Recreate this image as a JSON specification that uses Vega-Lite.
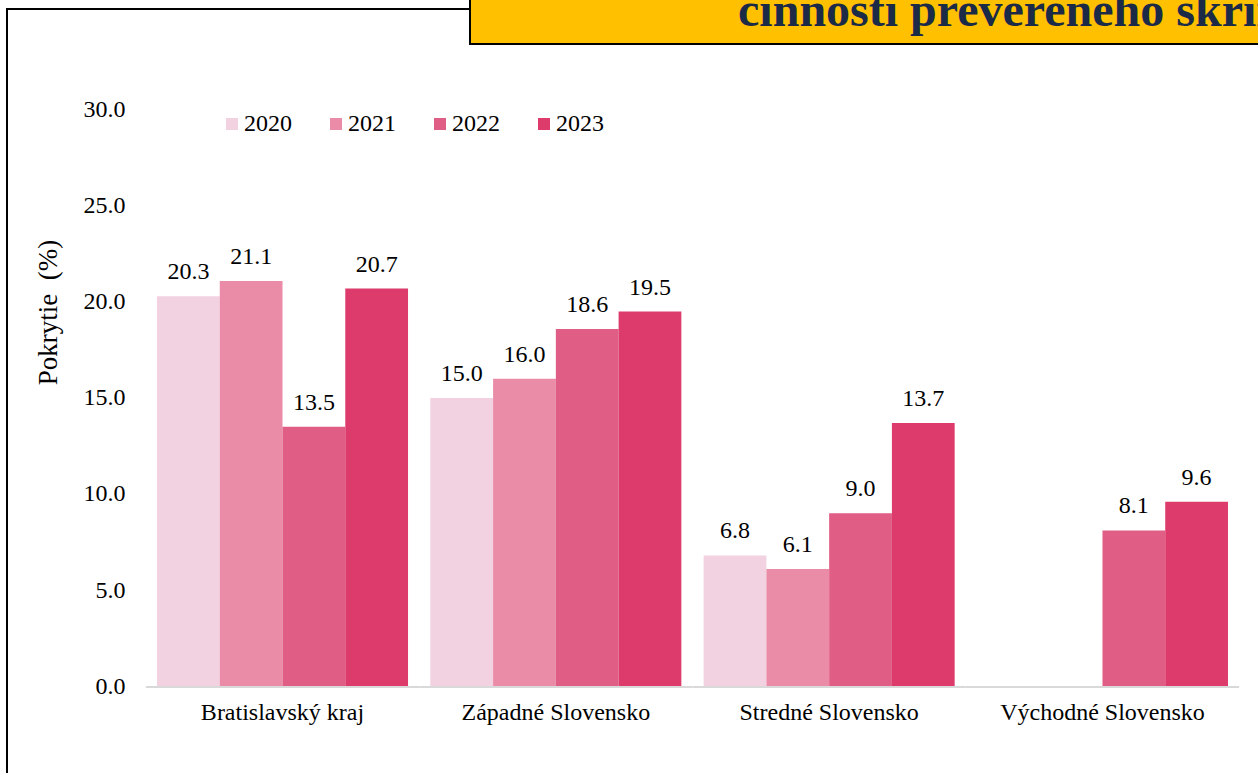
{
  "$schema": "https://vega.github.io/schema/vega-lite/v6.json",
  "autosize": {"type": "none"},
  "padding": {"left": 7, "top": 9, "right": 0, "bottom": 0},
  "background": "white",
  "width": 1300,
  "height": 800,
  "config": {
    "font": "Liberation Serif",
    "view": {"stroke": "#000000", "strokeWidth": 2},
    "axis": {"labelFont": "Liberation Serif", "titleFont": "Liberation Serif"},
    "legend": {"labelFont": "Liberation Serif"},
    "text": {"font": "Liberation Serif"}
  },
  "data": {
    "values": [
      {"region": "Bratislavský kraj", "year": "2020", "value": 20.3},
      {"region": "Bratislavský kraj", "year": "2021", "value": 21.1},
      {"region": "Bratislavský kraj", "year": "2022", "value": 13.5},
      {"region": "Bratislavský kraj", "year": "2023", "value": 20.7},
      {"region": "Západné Slovensko", "year": "2020", "value": 15.0},
      {"region": "Západné Slovensko", "year": "2021", "value": 16.0},
      {"region": "Západné Slovensko", "year": "2022", "value": 18.6},
      {"region": "Západné Slovensko", "year": "2023", "value": 19.5},
      {"region": "Stredné Slovensko", "year": "2020", "value": 6.8},
      {"region": "Stredné Slovensko", "year": "2021", "value": 6.1},
      {"region": "Stredné Slovensko", "year": "2022", "value": 9.0},
      {"region": "Stredné Slovensko", "year": "2023", "value": 13.7},
      {"region": "Východné Slovensko", "year": "2022", "value": 8.1},
      {"region": "Východné Slovensko", "year": "2023", "value": 9.6}
    ]
  },
  "encoding": {
    "x": {
      "field": "region",
      "type": "nominal",
      "sort": ["Bratislavský kraj", "Západné Slovensko", "Stredné Slovensko", "Východné Slovensko"],
      "scale": {"domain": ["Bratislavský kraj", "Západné Slovensko", "Stredné Slovensko", "Východné Slovensko"], "paddingInner": 0.0816, "paddingOuter": 0.419, "align": 0.655},
      "axis": {"title": null, "domain": false, "ticks": false, "grid": false, "offset": -123, "labelPadding": 14, "labelFontSize": 24, "labelFont": "Liberation Serif", "labelColor": "#000000", "labelAngle": 0, "labelLimit": 0}
    }
  },
  "layer": [
    {
      "data": {"values": [
        {"region": "Bratislavský kraj"},
        {"region": "Západné Slovensko"},
        {"region": "Stredné Slovensko"},
        {"region": "Východné Slovensko"}
      ]},
      "mark": {"type": "bar", "color": "#D9D9D9", "width": {"band": 1.0889}},
      "encoding": {
        "y": {"datum": 0, "type": "quantitative"},
        "y2": {"datum": -0.1}
      }
    },
    {
      "mark": {"type": "bar"},
      "encoding": {
        "xOffset": {"field": "year", "type": "nominal", "scale": {"domain": ["2020", "2021", "2022", "2023"], "paddingInner": 0, "paddingOuter": 0}},
        "y": {
          "field": "value",
          "type": "quantitative",
          "stack": null,
          "scale": {"domain": [-6.406, 35.26], "nice": false, "zero": false},
          "axis": {
            "values": [0, 5, 10, 15, 20, 25, 30],
            "format": ".1f",
            "domain": false,
            "ticks": false,
            "grid": false,
            "offset": -140,
            "labelPadding": 22,
            "labelFontSize": 24,
            "labelFont": "Liberation Serif",
            "labelColor": "#000000",
            "title": "Pokrytie \u00a0(%)",
            "titleFont": "Liberation Serif",
            "titleFontSize": 27,
            "titleFontWeight": "normal",
            "titleColor": "#000000",
            "titleX": -99,
            "titleY": 303,
            "titleAngle": -90,
            "titleAlign": "center",
            "titleBaseline": "middle"
          }
        },
        "y2": {"datum": 0},
        "color": {
          "field": "year",
          "type": "nominal",
          "scale": {"domain": ["2020", "2021", "2022", "2023"], "range": ["#F2D1E1", "#EA8BA7", "#E05D85", "#DC3B6C"]},
          "legend": {
            "title": null,
            "orient": "none",
            "direction": "horizontal",
            "legendX": 213,
            "legendY": 103,
            "padding": 0,
            "symbolType": "square",
            "symbolSize": 144,
            "symbolStrokeWidth": 0,
            "symbolOpacity": 1,
            "labelFont": "Liberation Serif",
            "labelFontSize": 24,
            "labelColor": "#000000",
            "labelOffset": 0,
            "columnPadding": 32
          }
        }
      }
    },
    {
      "mark": {"type": "text", "baseline": "alphabetic", "align": "center", "dy": -17, "fontSize": 24, "font": "Liberation Serif", "color": "#000000"},
      "encoding": {
        "xOffset": {"field": "year", "type": "nominal", "scale": {"domain": ["2020", "2021", "2022", "2023"], "paddingInner": 0, "paddingOuter": 0}},
        "y": {"field": "value", "type": "quantitative"},
        "text": {"field": "value", "type": "quantitative", "format": ".1f"}
      }
    },
    {
      "data": {"values": [{"title": "činnosti prevereného skríningom"}]},
      "mark": {"type": "rect", "fill": "#FFC000", "stroke": "#000000", "strokeWidth": 2},
      "encoding": {
        "x": {"datum": "Západné Slovensko", "bandPosition": 0.158},
        "x2": {"datum": "Východné Slovensko", "bandPosition": 1.5},
        "y": {"datum": 37, "type": "quantitative"},
        "y2": {"datum": 33.44}
      }
    },
    {
      "data": {"values": [{"title": "činnosti prevereného skríningom"}]},
      "mark": {"type": "text", "font": "Liberation Serif", "fontWeight": "bold", "fontSize": 48, "color": "#1B2A47", "baseline": "alphabetic", "align": "left"},
      "encoding": {
        "x": {"datum": "Stredné Slovensko", "bandPosition": 0.137},
        "y": {"datum": 34.4, "type": "quantitative"},
        "text": {"field": "title", "type": "nominal"}
      }
    }
  ]
}
